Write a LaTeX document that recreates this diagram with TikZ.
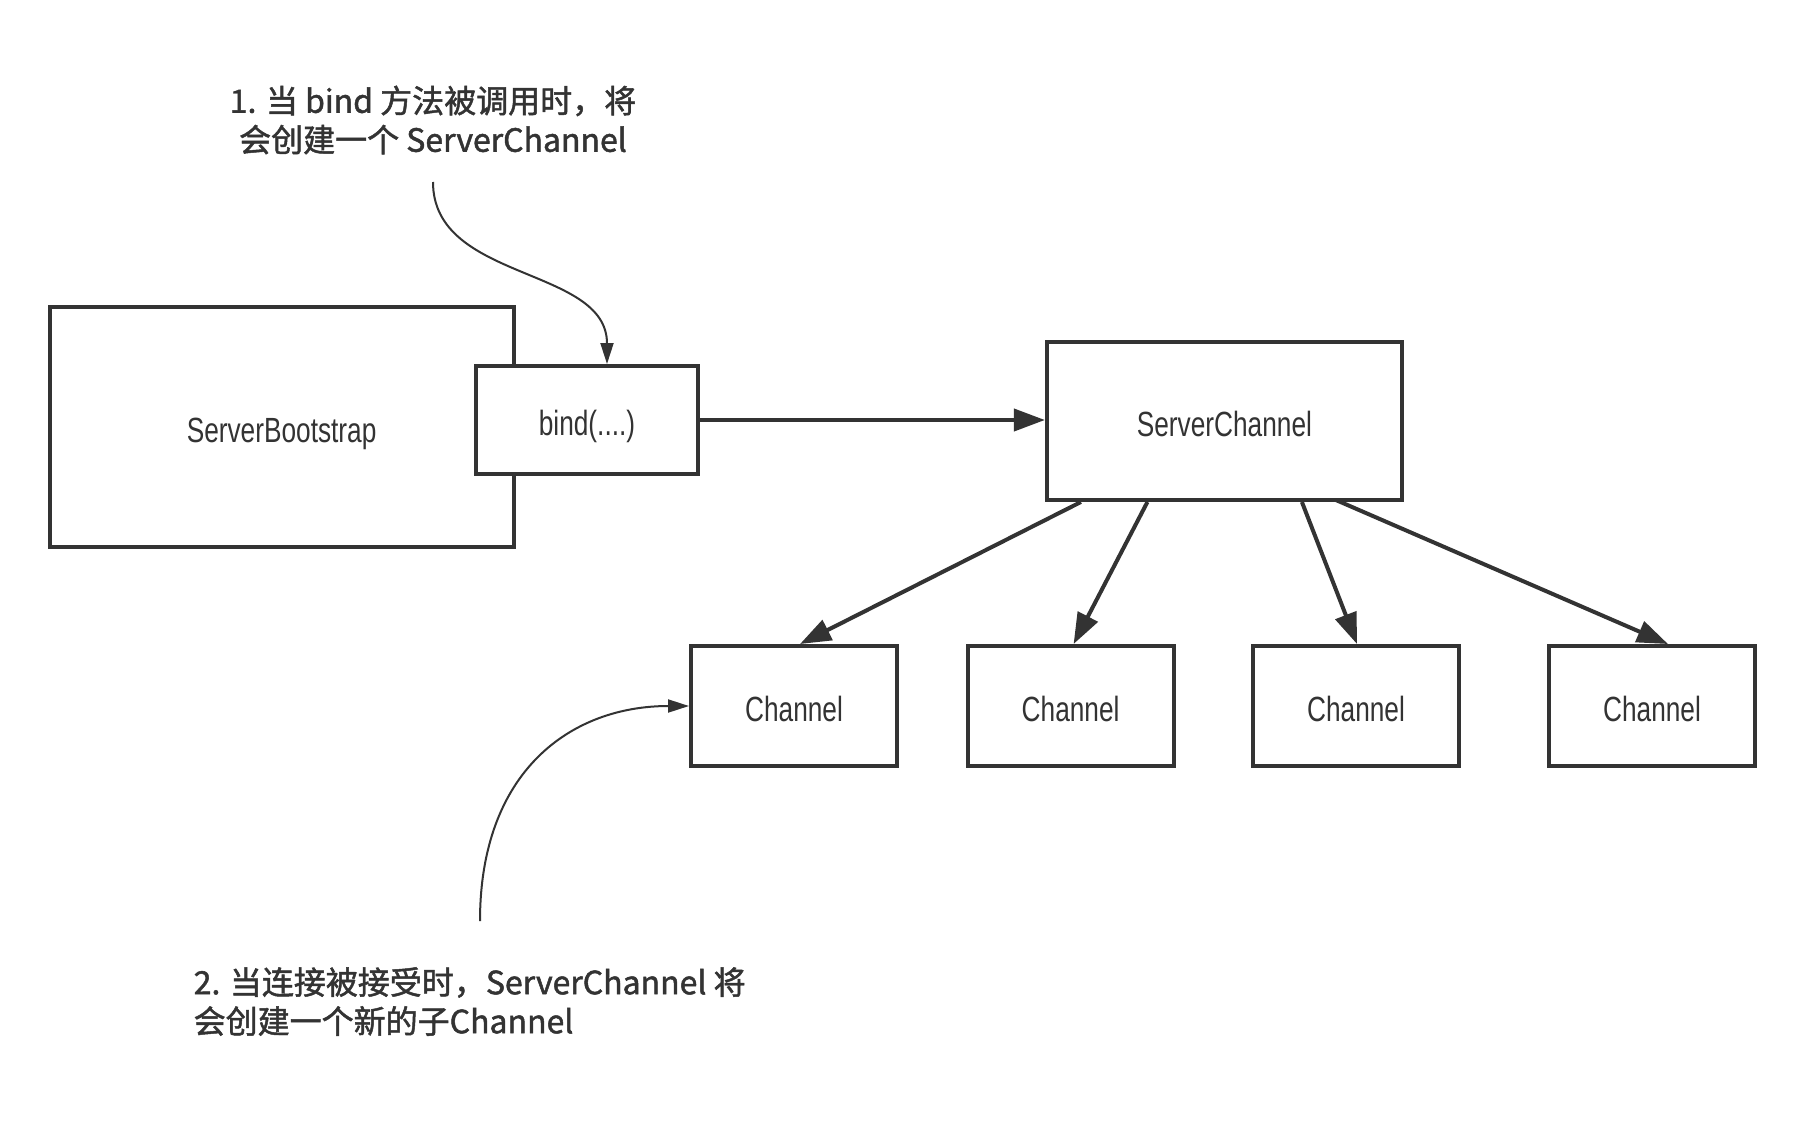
\documentclass[tikz,border=0pt]{standalone}
\usepackage{fontspec}
\setmainfont{Liberation Sans}
\newfontfamily\cjk[FakeBold=1.5]{Noto Sans CJK SC}
\newfontfamily\lbl[FakeStretch=0.75]{Liberation Sans}
\usetikzlibrary{arrows.meta,calc}
\definecolor{ink}{HTML}{333333}
\begin{document}
\begin{tikzpicture}[x=1pt,y=-1pt,
  box/.style={draw=ink, line width=4pt, fill=white, inner sep=0pt, text height=38pt, text depth=7pt, font=\lbl\fontsize{35}{42}\selectfont, text=ink},
  conn/.style={draw=ink, line width=4pt, -{Triangle[length=31pt,width=22pt]}},
  curv/.style={draw=ink, line width=2pt, -{Triangle[length=21pt,width=13pt]}},
  note/.style={font=\cjk\fontsize{32}{39}\selectfont, text=ink, inner sep=0pt}]
\fill[white] (0,0) rectangle (1806,1124);
\useasboundingbox (0,0) rectangle (1806,1124);

\node[box, minimum width=464pt, minimum height=240pt] (boot) at (281.6,427.3) {ServerBootstrap};
\node[box, minimum width=222pt, minimum height=108pt] (bind) at (587,420) {bind(....)};
\node[box, minimum width=355pt, minimum height=158pt] (sc) at (1224.4,421) {ServerChannel};
\node[box, minimum width=206pt, minimum height=120pt] (ch1) at (794,706) {Channel};
\node[box, minimum width=206pt, minimum height=120pt] (ch2) at (1070.6,706) {Channel};
\node[box, minimum width=206pt, minimum height=120pt] (ch3) at (1356,706) {Channel};
\node[box, minimum width=206pt, minimum height=120pt] (ch4) at (1652,706) {Channel};

\draw[conn] (bind.east) -- (bind.east -| sc.west);
\draw[conn] ($(sc.south west)+(36,0)$) -- ($(ch1.north)+(6,0)$);
\draw[conn] ($(sc.south west)+(102.5,0)$) -- ($(ch2.north)+(3,0)$);
\draw[conn] ($(sc.south west)+(257,0)$) -- ($(ch3.north)+(1,0)$);
\draw[conn] ($(sc.south west)+(291,-2)$) -- ($(ch4.north)+(16,0)$);

\node[note, align=center] (n1) at (433,120) {1. 当 bind 方法被调用时，将\\会创建一个 ServerChannel};
\node[note, align=left, anchor=west] (n2) at (193.5,1001.5) {2. 当连接被接受时，ServerChannel 将\\会创建一个新的子Channel};

\coordinate (c1) at (433,182);
\coordinate (c2) at (480,921);
\draw[curv] (c1) .. controls (433,282) and (607,266) .. ($(bind.north)+(20,0)$);
\draw[curv] (c2) .. controls (480,771) and (571,706) .. (ch1.west);
\end{tikzpicture}
\end{document}
